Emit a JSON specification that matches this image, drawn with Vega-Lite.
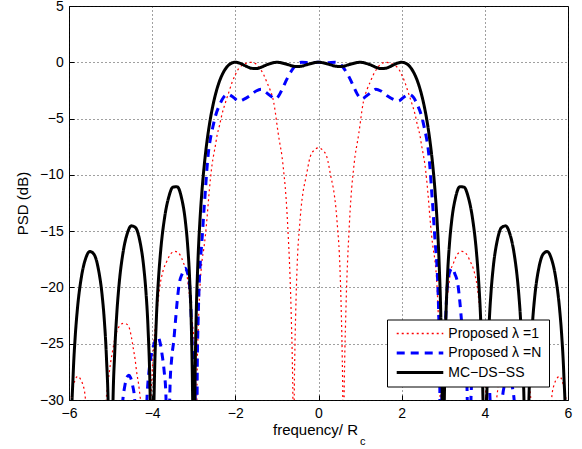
{
  "$schema": "https://vega.github.io/schema/vega-lite/v6.json",
  "width": 499,
  "height": 394,
  "autosize": "none",
  "padding": {"left": 69, "top": 6, "right": 14, "bottom": 49},
  "background": "white",
  "config": {
    "font": "Liberation Sans",
    "view": {"stroke": "black", "strokeWidth": 1},
    "legend": {
      "labelFontSize": 14, "labelColor": "black", "labelFont": "Liberation Sans",
      "labelOffset": 21.3, "symbolOffset": 19, "padding": 7, "rowPadding": 5.5,
      "symbolType": "stroke", "symbolSize": 2170, "symbolStrokeWidth": 2.5,
      "fillColor": "white", "strokeColor": "black"
    }
  },
  "datasets": {
    "red": [
      {"f":-6,"p":-32},{"f":-5.97,"p":-30.5},{"f":-5.92,"p":-29.3},{"f":-5.86,"p":-28.3},{"f":-5.79,"p":-27.9},{"f":-5.73,"p":-28.1},{"f":-5.67,"p":-28.6},{"f":-5.62,"p":-29.4},{"f":-5.57,"p":-31.5},{"f":-5.35,"p":-45},{"f":-5.14,"p":-31.5},{"f":-5.09,"p":-29.3},{"f":-5.05,"p":-28.1},{"f":-5,"p":-26.7},{"f":-4.95,"p":-25.6},{"f":-4.9,"p":-24.6},{"f":-4.85,"p":-23.9},{"f":-4.78,"p":-23.4},{"f":-4.7,"p":-23.2},{"f":-4.62,"p":-23.25},{"f":-4.55,"p":-23.6},{"f":-4.5,"p":-24.4},{"f":-4.45,"p":-25.5},{"f":-4.41,"p":-26.4},{"f":-4.37,"p":-27.6},{"f":-4.33,"p":-28.5},{"f":-4.29,"p":-29.7},{"f":-4.25,"p":-31},{"f":-4.15,"p":-45},{"f":-4.04,"p":-31},{"f":-4,"p":-27.5},{"f":-3.97,"p":-25.5},{"f":-3.94,"p":-24},{"f":-3.9,"p":-22.7},{"f":-3.86,"p":-21.3},{"f":-3.82,"p":-20},{"f":-3.77,"p":-19},{"f":-3.72,"p":-18.3},{"f":-3.65,"p":-17.7},{"f":-3.55,"p":-17},{"f":-3.45,"p":-16.8},{"f":-3.33,"p":-17.1},{"f":-3.25,"p":-17.8},{"f":-3.17,"p":-18.7},{"f":-3.13,"p":-19.9},{"f":-3.09,"p":-21.1},{"f":-3.05,"p":-22.5},{"f":-3.01,"p":-24},{"f":-2.97,"p":-26},{"f":-2.955,"p":-30},{"f":-2.94,"p":-45},{"f":-2.92,"p":-28},{"f":-2.89,"p":-23.5},{"f":-2.85,"p":-19.9},{"f":-2.8,"p":-17.6},{"f":-2.76,"p":-16.6},{"f":-2.72,"p":-15.4},{"f":-2.68,"p":-13.8},{"f":-2.64,"p":-12},{"f":-2.6,"p":-10.4},{"f":-2.56,"p":-9.1},{"f":-2.52,"p":-8.2},{"f":-2.48,"p":-7.4},{"f":-2.44,"p":-6.5},{"f":-2.38,"p":-5.6},{"f":-2.32,"p":-4.6},{"f":-2.24,"p":-3.6},{"f":-2.16,"p":-2.7},{"f":-2.08,"p":-1.8},{"f":-2,"p":-1.1},{"f":-1.92,"p":-0.55},{"f":-1.85,"p":-0.3},{"f":-1.75,"p":-0.1},{"f":-1.62,"p":0},{"f":-1.5,"p":-0.15},{"f":-1.4,"p":-0.6},{"f":-1.32,"p":-1.1},{"f":-1.25,"p":-1.7},{"f":-1.17,"p":-2.4},{"f":-1.08,"p":-3.5},{"f":-1.04,"p":-4.4},{"f":-1,"p":-5.5},{"f":-0.97,"p":-6.3},{"f":-0.93,"p":-7.2},{"f":-0.88,"p":-8.3},{"f":-0.84,"p":-9.6},{"f":-0.8,"p":-11.1},{"f":-0.76,"p":-13.2},{"f":-0.73,"p":-15.3},{"f":-0.7,"p":-17.6},{"f":-0.67,"p":-20.6},{"f":-0.65,"p":-23.3},{"f":-0.63,"p":-26.4},{"f":-0.615,"p":-30.5},{"f":-0.6,"p":-45},{"f":-0.585,"p":-30.5},{"f":-0.57,"p":-26},{"f":-0.55,"p":-22.5},{"f":-0.53,"p":-19.8},{"f":-0.5,"p":-16.9},{"f":-0.46,"p":-14.8},{"f":-0.42,"p":-13},{"f":-0.37,"p":-11.5},{"f":-0.3,"p":-10.2},{"f":-0.2,"p":-8.4},{"f":-0.1,"p":-7.8},
      {"f":0,"p":-7.6},
      {"f":0.1,"p":-7.8},{"f":0.2,"p":-8.4},{"f":0.3,"p":-10.2},{"f":0.37,"p":-11.5},{"f":0.42,"p":-13},{"f":0.46,"p":-14.8},{"f":0.5,"p":-16.9},{"f":0.53,"p":-19.8},{"f":0.55,"p":-22.5},{"f":0.57,"p":-26},{"f":0.585,"p":-30.5},{"f":0.6,"p":-45},{"f":0.615,"p":-30.5},{"f":0.63,"p":-26.4},{"f":0.65,"p":-23.3},{"f":0.67,"p":-20.6},{"f":0.7,"p":-17.6},{"f":0.73,"p":-15.3},{"f":0.76,"p":-13.2},{"f":0.8,"p":-11.1},{"f":0.84,"p":-9.6},{"f":0.88,"p":-8.3},{"f":0.93,"p":-7.2},{"f":0.97,"p":-6.3},{"f":1,"p":-5.5},{"f":1.04,"p":-4.4},{"f":1.08,"p":-3.5},{"f":1.17,"p":-2.4},{"f":1.25,"p":-1.7},{"f":1.32,"p":-1.1},{"f":1.4,"p":-0.6},{"f":1.5,"p":-0.15},{"f":1.62,"p":0},{"f":1.75,"p":-0.1},{"f":1.85,"p":-0.3},{"f":1.92,"p":-0.55},{"f":2,"p":-1.1},{"f":2.08,"p":-1.8},{"f":2.16,"p":-2.7},{"f":2.24,"p":-3.6},{"f":2.32,"p":-4.6},{"f":2.38,"p":-5.6},{"f":2.44,"p":-6.5},{"f":2.48,"p":-7.4},{"f":2.52,"p":-8.2},{"f":2.56,"p":-9.1},{"f":2.6,"p":-10.4},{"f":2.64,"p":-12},{"f":2.68,"p":-13.8},{"f":2.72,"p":-15.4},{"f":2.76,"p":-16.6},{"f":2.8,"p":-17.6},{"f":2.85,"p":-19.9},{"f":2.89,"p":-23.5},{"f":2.92,"p":-28},{"f":2.94,"p":-45},{"f":2.955,"p":-30},{"f":2.97,"p":-26},{"f":3.01,"p":-24},{"f":3.05,"p":-22.5},{"f":3.09,"p":-21.1},{"f":3.13,"p":-19.9},{"f":3.17,"p":-18.7},{"f":3.25,"p":-17.8},{"f":3.33,"p":-17.1},{"f":3.45,"p":-16.8},{"f":3.55,"p":-17},{"f":3.65,"p":-17.7},{"f":3.72,"p":-18.3},{"f":3.77,"p":-19},{"f":3.82,"p":-20},{"f":3.86,"p":-21.3},{"f":3.9,"p":-22.7},{"f":3.94,"p":-24},{"f":3.97,"p":-25.5},{"f":4,"p":-27.5},{"f":4.04,"p":-31},{"f":4.15,"p":-45},{"f":4.25,"p":-31},{"f":4.29,"p":-29.7},{"f":4.33,"p":-28.5},{"f":4.37,"p":-27.6},{"f":4.41,"p":-26.4},{"f":4.45,"p":-25.5},{"f":4.5,"p":-24.4},{"f":4.55,"p":-23.6},{"f":4.62,"p":-23.25},{"f":4.7,"p":-23.2},{"f":4.78,"p":-23.4},{"f":4.85,"p":-23.9},{"f":4.9,"p":-24.6},{"f":4.95,"p":-25.6},{"f":5,"p":-26.7},{"f":5.05,"p":-28.1},{"f":5.09,"p":-29.3},{"f":5.14,"p":-31.5},{"f":5.35,"p":-45},{"f":5.57,"p":-31.5},{"f":5.62,"p":-29.4},{"f":5.67,"p":-28.6},{"f":5.73,"p":-28.1},{"f":5.79,"p":-27.9},{"f":5.86,"p":-28.3},{"f":5.92,"p":-29.3},{"f":5.97,"p":-30.5},{"f":6,"p":-32}
    ],
    "blue": [
      {"f":-6,"p":-45},{"f":-4.9,"p":-45},{"f":-4.76,"p":-33},{"f":-4.7,"p":-29.8},{"f":-4.66,"p":-28.8},{"f":-4.61,"p":-28},{"f":-4.56,"p":-27.8},{"f":-4.52,"p":-28},{"f":-4.47,"p":-28.7},{"f":-4.42,"p":-30},{"f":-4.36,"p":-35},{"f":-4.25,"p":-45},{"f":-4.17,"p":-35},{"f":-4.12,"p":-29.5},{"f":-4.08,"p":-27.6},{"f":-4.04,"p":-26.4},{"f":-4,"p":-25.6},{"f":-3.96,"p":-25.1},{"f":-3.91,"p":-24.6},{"f":-3.86,"p":-24.4},{"f":-3.81,"p":-24.9},{"f":-3.76,"p":-26},{"f":-3.71,"p":-27.5},{"f":-3.67,"p":-29.5},{"f":-3.62,"p":-40},{"f":-3.57,"p":-28.7},{"f":-3.53,"p":-26.3},{"f":-3.48,"p":-24.7},{"f":-3.44,"p":-23},{"f":-3.4,"p":-21.3},{"f":-3.35,"p":-19.7},{"f":-3.28,"p":-18.8},{"f":-3.21,"p":-18.3},{"f":-3.15,"p":-18.7},{"f":-3.1,"p":-19.8},{"f":-3.07,"p":-21.7},{"f":-3.05,"p":-23.8},{"f":-3.03,"p":-25.7},{"f":-3,"p":-27.5},{"f":-2.97,"p":-29},{"f":-2.935,"p":-45},{"f":-2.915,"p":-27},{"f":-2.895,"p":-23},{"f":-2.87,"p":-19.8},{"f":-2.84,"p":-17.6},{"f":-2.81,"p":-16.2},{"f":-2.78,"p":-14.6},{"f":-2.75,"p":-12.9},{"f":-2.72,"p":-11.4},{"f":-2.69,"p":-9.8},{"f":-2.65,"p":-8.1},{"f":-2.6,"p":-6.8},{"f":-2.55,"p":-5.9},{"f":-2.48,"p":-4.8},{"f":-2.38,"p":-3.8},{"f":-2.28,"p":-3.1},{"f":-2.18,"p":-2.85},{"f":-2.05,"p":-3.1},{"f":-1.92,"p":-3.45},{"f":-1.8,"p":-3.3},{"f":-1.66,"p":-3},{"f":-1.5,"p":-2.55},{"f":-1.38,"p":-2.4},{"f":-1.29,"p":-2.6},{"f":-1.15,"p":-3},{"f":-1.04,"p":-3.25},{"f":-0.97,"p":-3.05},{"f":-0.9,"p":-2.6},{"f":-0.8,"p":-1.8},{"f":-0.72,"p":-1.2},{"f":-0.6,"p":-0.5},{"f":-0.5,"p":-0.1},{"f":-0.4,"p":0},{"f":-0.2,"p":-0.05},
      {"f":0,"p":0},
      {"f":0.2,"p":-0.05},{"f":0.4,"p":0},{"f":0.5,"p":-0.1},{"f":0.6,"p":-0.5},{"f":0.72,"p":-1.2},{"f":0.8,"p":-1.8},{"f":0.9,"p":-2.6},{"f":0.97,"p":-3.05},{"f":1.04,"p":-3.25},{"f":1.15,"p":-3},{"f":1.29,"p":-2.6},{"f":1.38,"p":-2.4},{"f":1.5,"p":-2.55},{"f":1.66,"p":-3},{"f":1.8,"p":-3.3},{"f":1.92,"p":-3.45},{"f":2.05,"p":-3.1},{"f":2.18,"p":-2.85},{"f":2.28,"p":-3.1},{"f":2.38,"p":-3.8},{"f":2.48,"p":-4.8},{"f":2.55,"p":-5.9},{"f":2.6,"p":-6.8},{"f":2.65,"p":-8.1},{"f":2.69,"p":-9.8},{"f":2.72,"p":-11.4},{"f":2.75,"p":-12.9},{"f":2.78,"p":-14.6},{"f":2.81,"p":-16.2},{"f":2.84,"p":-17.6},{"f":2.87,"p":-19.8},{"f":2.895,"p":-23},{"f":2.915,"p":-27},{"f":2.935,"p":-45},{"f":2.97,"p":-29},{"f":3,"p":-27.5},{"f":3.03,"p":-25.7},{"f":3.05,"p":-23.8},{"f":3.07,"p":-21.7},{"f":3.1,"p":-19.8},{"f":3.15,"p":-18.7},{"f":3.21,"p":-18.3},{"f":3.28,"p":-18.8},{"f":3.35,"p":-19.7},{"f":3.4,"p":-21.3},{"f":3.44,"p":-23},{"f":3.48,"p":-24.7},{"f":3.53,"p":-26.3},{"f":3.57,"p":-28.7},{"f":3.62,"p":-40},{"f":3.67,"p":-29.5},{"f":3.71,"p":-27.5},{"f":3.76,"p":-26},{"f":3.81,"p":-24.9},{"f":3.86,"p":-24.4},{"f":3.91,"p":-24.6},{"f":3.96,"p":-25.1},{"f":4,"p":-25.6},{"f":4.04,"p":-26.4},{"f":4.08,"p":-27.6},{"f":4.12,"p":-29.5},{"f":4.17,"p":-35},{"f":4.25,"p":-45},{"f":4.36,"p":-35},{"f":4.42,"p":-30},{"f":4.47,"p":-28.7},{"f":4.52,"p":-28},{"f":4.56,"p":-27.8},{"f":4.61,"p":-28},{"f":4.66,"p":-28.8},{"f":4.7,"p":-29.8},{"f":4.76,"p":-33},{"f":4.9,"p":-45},{"f":6,"p":-45}
    ],
    "black": [
      {"f":-6,"p":-60},{"f":-5.95,"p":-33.8},{"f":-5.9,"p":-27.76},{"f":-5.85,"p":-24.33},{"f":-5.8,"p":-22},{"f":-5.7,"p":-19.04},{"f":-5.6,"p":-17.44},{"f":-5.5,"p":-16.81},{"f":-5.4,"p":-17.05},{"f":-5.3,"p":-18.25},{"f":-5.2,"p":-20.82},{"f":-5.15,"p":-22.95},{"f":-5.1,"p":-26.19},{"f":-5.05,"p":-32},{"f":-5,"p":-60},{"f":-4.95,"p":-31.8},{"f":-4.9,"p":-25.74},{"f":-4.85,"p":-22.28},{"f":-4.8,"p":-19.91},{"f":-4.7,"p":-16.89},{"f":-4.6,"p":-15.23},{"f":-4.5,"p":-14.53},{"f":-4.4,"p":-14.69},{"f":-4.3,"p":-15.81},{"f":-4.2,"p":-18.29},{"f":-4.15,"p":-20.37},{"f":-4.1,"p":-23.56},{"f":-4.05,"p":-29.3},{"f":-4.03,"p":-33.7},{"f":-4,"p":-60},{"f":-3.97,"p":-33.5},{"f":-3.95,"p":-28.97},{"f":-3.9,"p":-22.88},{"f":-3.85,"p":-19.36},{"f":-3.8,"p":-16.93},{"f":-3.7,"p":-13.77},{"f":-3.6,"p":-11.96},{"f":-3.5,"p":-11.09},{"f":-3.4,"p":-11.05},{"f":-3.3,"p":-11.95},{"f":-3.2,"p":-14.17},{"f":-3.15,"p":-16.12},{"f":-3.1,"p":-19.16},{"f":-3.05,"p":-24.74},{"f":-3.03,"p":-29},{"f":-3.02,"p":-32.5},{"f":-3,"p":-60},{"f":-2.98,"p":-32.2},{"f":-2.97,"p":-28.6},{"f":-2.95,"p":-24.04},{"f":-2.9,"p":-17.74},{"f":-2.85,"p":-13.99},{"f":-2.8,"p":-11.31},{"f":-2.75,"p":-9.24},{"f":-2.7,"p":-7.56},{"f":-2.65,"p":-6.18},{"f":-2.6,"p":-5.01},{"f":-2.55,"p":-4.03},{"f":-2.5,"p":-3.19},{"f":-2.45,"p":-2.48},{"f":-2.4,"p":-1.88},{"f":-2.3,"p":-0.98},{"f":-2.2,"p":-0.4},{"f":-2.1,"p":-0.09},{"f":-2,"p":0},{"f":-1.9,"p":-0.07},{"f":-1.75,"p":-0.33},{"f":-1.6,"p":-0.54},{"f":-1.5,"p":-0.56},{"f":-1.4,"p":-0.47},{"f":-1.25,"p":-0.23},{"f":-1,"p":0},{"f":-0.75,"p":-0.19},{"f":-0.6,"p":-0.35},{"f":-0.5,"p":-0.38},{"f":-0.4,"p":-0.34},{"f":-0.25,"p":-0.18},
      {"f":0,"p":0},
      {"f":0.25,"p":-0.18},{"f":0.4,"p":-0.34},{"f":0.5,"p":-0.38},{"f":0.6,"p":-0.35},{"f":0.75,"p":-0.19},{"f":1,"p":0},{"f":1.25,"p":-0.23},{"f":1.4,"p":-0.47},{"f":1.5,"p":-0.56},{"f":1.6,"p":-0.54},{"f":1.75,"p":-0.33},{"f":1.9,"p":-0.07},{"f":2,"p":0},{"f":2.1,"p":-0.09},{"f":2.2,"p":-0.4},{"f":2.3,"p":-0.98},{"f":2.4,"p":-1.88},{"f":2.45,"p":-2.48},{"f":2.5,"p":-3.19},{"f":2.55,"p":-4.03},{"f":2.6,"p":-5.01},{"f":2.65,"p":-6.18},{"f":2.7,"p":-7.56},{"f":2.75,"p":-9.24},{"f":2.8,"p":-11.31},{"f":2.85,"p":-13.99},{"f":2.9,"p":-17.74},{"f":2.95,"p":-24.04},{"f":2.97,"p":-28.6},{"f":2.98,"p":-32.2},{"f":3,"p":-60},{"f":3.02,"p":-32.5},{"f":3.03,"p":-29},{"f":3.05,"p":-24.74},{"f":3.1,"p":-19.16},{"f":3.15,"p":-16.12},{"f":3.2,"p":-14.17},{"f":3.3,"p":-11.95},{"f":3.4,"p":-11.05},{"f":3.5,"p":-11.09},{"f":3.6,"p":-11.96},{"f":3.7,"p":-13.77},{"f":3.8,"p":-16.93},{"f":3.85,"p":-19.36},{"f":3.9,"p":-22.88},{"f":3.95,"p":-28.97},{"f":3.97,"p":-33.5},{"f":4,"p":-60},{"f":4.03,"p":-33.7},{"f":4.05,"p":-29.3},{"f":4.1,"p":-23.56},{"f":4.15,"p":-20.37},{"f":4.2,"p":-18.29},{"f":4.3,"p":-15.81},{"f":4.4,"p":-14.69},{"f":4.5,"p":-14.53},{"f":4.6,"p":-15.23},{"f":4.7,"p":-16.89},{"f":4.8,"p":-19.91},{"f":4.85,"p":-22.28},{"f":4.9,"p":-25.74},{"f":4.95,"p":-31.8},{"f":5,"p":-60},{"f":5.05,"p":-32},{"f":5.1,"p":-26.19},{"f":5.15,"p":-22.95},{"f":5.2,"p":-20.82},{"f":5.3,"p":-18.25},{"f":5.4,"p":-17.05},{"f":5.5,"p":-16.81},{"f":5.6,"p":-17.44},{"f":5.7,"p":-19.04},{"f":5.8,"p":-22},{"f":5.85,"p":-24.33},{"f":5.9,"p":-27.76},{"f":5.95,"p":-33.8},{"f":6,"p":-60}
    ],
    "sub": [{"t": "c", "f": 1.0, "p": -30}]
  },
  "encoding": {
    "x": {
      "field": "f", "type": "quantitative",
      "scale": {"domain": [-6, 6], "nice": false, "zero": false},
      "axis": {
        "values": [-6, -4, -2, 0, 2, 4, 6],
        "title": "frequency/ R",
        "titleFontSize": 15, "titleFontWeight": "normal", "titleColor": "black",
        "titleBaseline": "alphabetic", "titleY": 34.5, "titleX": 246,
        "labelFontSize": 14, "labelColor": "black", "labelBaseline": "alphabetic",
        "labelPadding": 22.8, "labelFlush": false,
        "tickSize": -5, "tickColor": "black",
        "domain": false,
        "grid": true, "gridColor": "#111", "gridOpacity": 0.8, "gridDash": [1, 3], "gridWidth": 1
      }
    },
    "y": {
      "field": "p", "type": "quantitative",
      "scale": {"domain": [-30, 5], "nice": false, "zero": false},
      "axis": {
        "values": [-30, -25, -20, -15, -10, -5, 0, 5],
        "title": "PSD (dB)",
        "titleFontSize": 15, "titleFontWeight": "normal", "titleColor": "black",
        "titleBaseline": "alphabetic", "titleX": -42, "titleAngle": 270,
        "labelFontSize": 14, "labelColor": "black",
        "labelPadding": 10.7, "labelFlush": false,
        "tickSize": -5, "tickColor": "black",
        "domain": false,
        "grid": true, "gridColor": "#111", "gridOpacity": 0.8, "gridDash": [1, 3], "gridWidth": 1
      }
    }
  },
  "layer": [
    {
      "data": {"name": "red"},
      "mark": {"type": "line", "clip": true, "strokeWidth": 1.2, "interpolate": "monotone"},
      "encoding": {
        "color": {
          "datum": "Proposed λ =1", "type": "nominal",
          "scale": {"domain": ["Proposed λ =1", "Proposed λ =N", "MC−DS−SS"], "range": ["#ff0000", "#0000ff", "#000000"]},
          "legend": {
            "orient": "none", "legendX": 318, "legendY": 313.5, "title": null,
            "labelFontSize": 14, "symbolSize": 2170, "symbolType": "stroke",
            "labelOffset": 21.3, "symbolOffset": 19,
            "encode": {"symbols": {"update": {"strokeWidth": {"signal": "datum.value === 'Proposed λ =1' ? 1.5 : 3"}}}}
          }
        },
        "strokeDash": {
          "datum": "Proposed λ =1", "type": "nominal",
          "scale": {"domain": ["Proposed λ =1", "Proposed λ =N", "MC−DS−SS"], "range": [[2, 3], [8, 6], [1, 0]]},
          "legend": {
            "orient": "none", "legendX": 318, "legendY": 313.5, "title": null,
            "labelFontSize": 14, "symbolSize": 2170, "symbolType": "stroke",
            "labelOffset": 21.3, "symbolOffset": 19
          }
        }
      }
    },
    {
      "data": {"name": "blue"},
      "mark": {"type": "line", "clip": true, "strokeWidth": 3, "interpolate": "monotone"},
      "encoding": {
        "color": {"datum": "Proposed λ =N", "type": "nominal"},
        "strokeDash": {"datum": "Proposed λ =N", "type": "nominal"}
      }
    },
    {
      "data": {"name": "black"},
      "mark": {"type": "line", "clip": true, "strokeWidth": 3, "interpolate": "monotone"},
      "encoding": {
        "color": {"datum": "MC−DS−SS", "type": "nominal"},
        "strokeDash": {"datum": "MC−DS−SS", "type": "nominal"}
      }
    },
    {
      "data": {"name": "sub"},
      "mark": {"type": "text", "fontSize": 11, "align": "left", "baseline": "alphabetic", "yOffset": 44.5, "fill": "black", "clip": false},
      "encoding": {
        "text": {"field": "t", "type": "nominal"}
      }
    }
  ]
}
